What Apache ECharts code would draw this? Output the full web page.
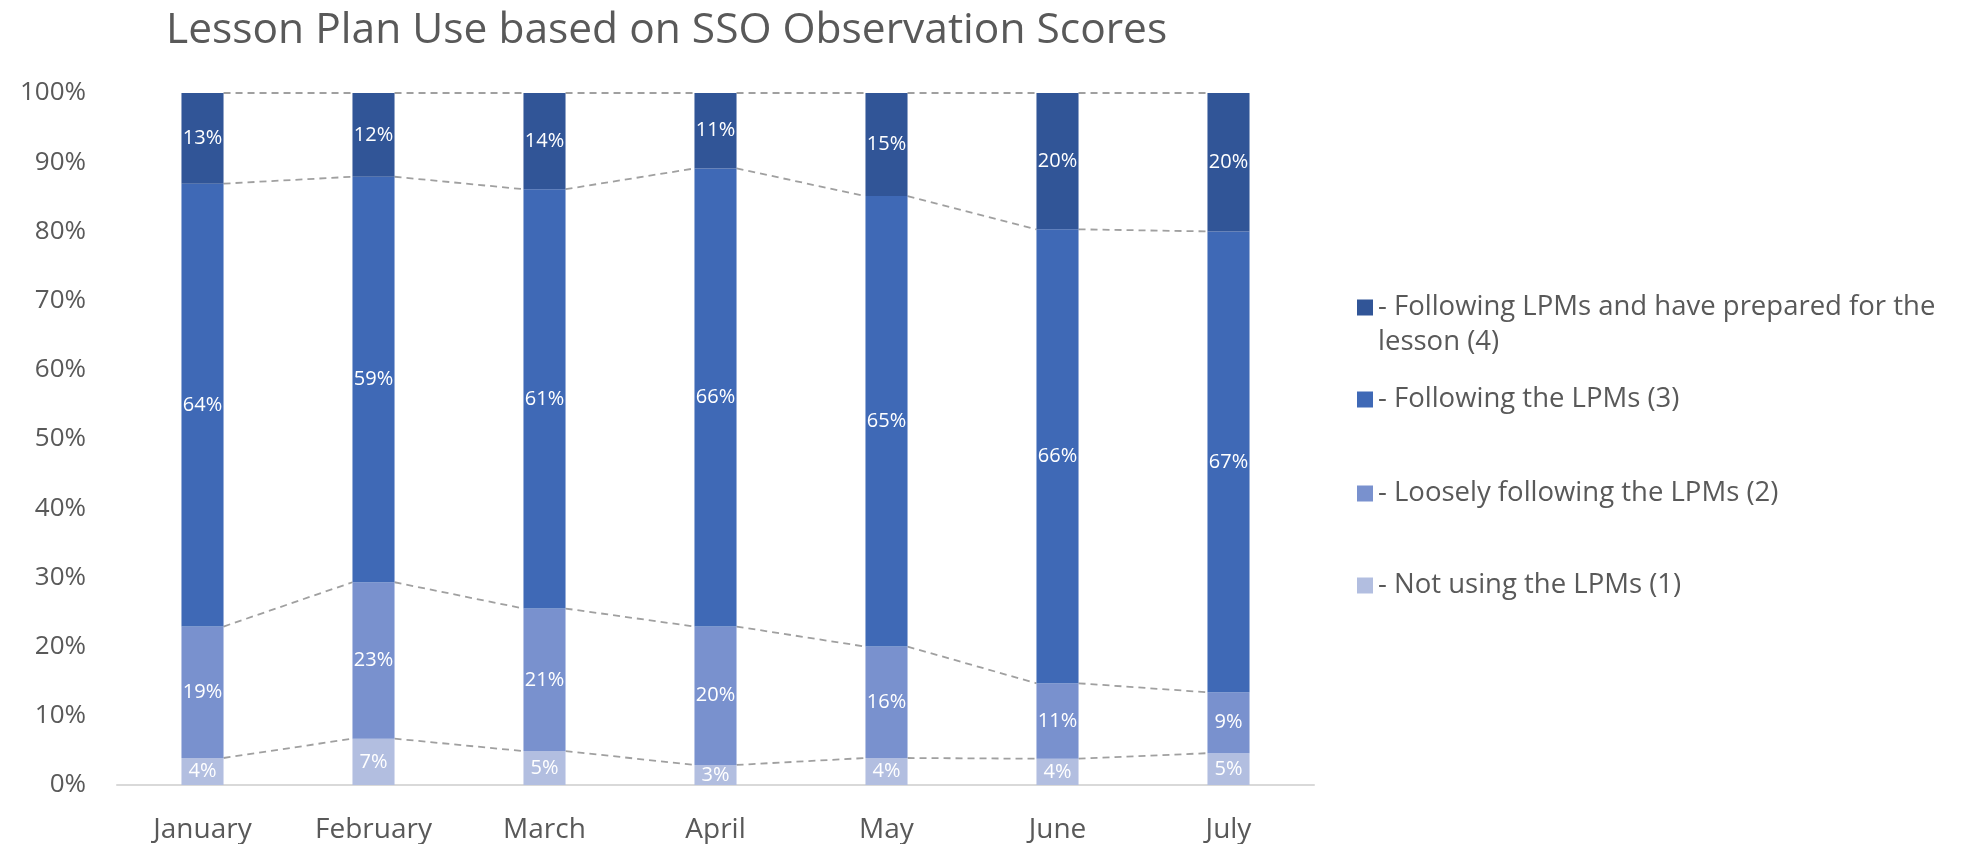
<!DOCTYPE html>
<html>
<head>
<meta charset="utf-8">
<script src="https://cdn.jsdelivr.net/npm/echarts@6/dist/echarts.min.js"></script>
<style>
html,body{margin:0;padding:0;background:#fff;}
#chart{width:1976px;height:844px;}
</style>
</head>
<body>
<div id="chart"></div>
<script>
const titleText = 'Lesson Plan Use based on SSO Observation Scores';
const months = ['January', 'February', 'March', 'April', 'May', 'June', 'July'];
const seriesNames = [
  '- Not using the LPMs (1)',
  '- Loosely following the LPMs (2)',
  '- Following the LPMs (3)',
  '- Following LPMs and have prepared for the lesson (4)'
];
const notUsing = [3.9, 6.7, 4.9, 2.9, 3.9, 3.8, 4.6];
const loosely = [19.0, 22.6, 20.6, 20.0, 16.1, 10.9, 8.8];
const following = [64.0, 58.6, 60.6, 66.2, 65.1, 65.6, 66.6];
const prepared = [13.1, 12.1, 13.9, 10.9, 14.9, 19.7, 20.0];
const yTicks = [0, 10, 20, 30, 40, 50, 60, 70, 80, 90, 100];

const colors = ['#B2BEE0', '#7991CE', '#3F69B6', '#315597'];
const seriesValues = [notUsing, loosely, following, prepared];
const BAR_FRAC = 0.246;
const FONT = '"Open Sans", sans-serif';
const GREY = '#595959';

// cumulative levels for series lines
const levels = [];
let run = months.map(() => 0);
seriesValues.forEach(arr => {
  run = run.map((v, i) => v + arr[i]);
  levels.push(run.slice());
});

const chart = echarts.init(document.getElementById('chart'), null, {renderer: 'canvas'});

const barSeries = seriesValues.map((arr, k) => ({
  name: seriesNames[k],
  type: 'bar',
  stack: 'total',
  barWidth: (BAR_FRAC * 100) + '%',
  data: arr,
  itemStyle: {color: colors[k]},
  label: {
    show: true,
    position: 'inside',
    color: '#fff',
    fontFamily: FONT,
    fontSize: 20,
    formatter: p => Math.round(p.value) + '%'
  },
  emphasis: {disabled: true}
}));

const linesSeries = {
  type: 'custom',
  silent: true,
  z: 1,
  data: months.slice(0, -1).map((m, i) => [i, 0]),
  encode: {x: 0, y: 1},
  renderItem: function (params, api) {
    const i = api.value(0);
    const half = api.size([1, 0])[0] * BAR_FRAC / 2;
    const children = levels.map(lv => {
      const p0 = api.coord([i, lv[i]]);
      const p1 = api.coord([i + 1, lv[i + 1]]);
      return {
        type: 'line',
        shape: {x1: p0[0] + half, y1: p0[1], x2: p1[0] - half, y2: p1[1]},
        style: {stroke: '#A0A0A0', lineWidth: 1.8, lineDash: [7, 5]}
      };
    });
    return {type: 'group', children: children};
  }
};

const legendTops = [255, 382, 476, 568];
const legendOrder = [3, 2, 1, 0];
const legends = legendOrder.map((k, j) => ({
  orient: 'vertical',
  left: 1357,
  top: legendTops[j],
  padding: 0,
  itemWidth: 16,
  itemHeight: 16,
  icon: 'rect',
  selectedMode: false,
  data: [seriesNames[k]],
  formatter: name => k === 3 ? ' \n- Following LPMs and have prepared for the\nlesson (4)' : name,
  textStyle: {color: GREY, fontFamily: FONT, fontSize: 27.5, lineHeight: 35}
}));

chart.setOption({
  animation: false,
  backgroundColor: '#fff',
  title: {
    text: titleText,
    left: 161,
    top: 4,
    textStyle: {color: GREY, fontFamily: FONT, fontSize: 42.5, fontWeight: 'normal'}
  },
  legend: legends,
  grid: {left: 117, right: 662, top: 93, bottom: 58, containLabel: false},
  xAxis: {
    type: 'category',
    data: months,
    axisLine: {lineStyle: {color: '#D9D9D9', width: 2}},
    axisTick: {show: false},
    axisLabel: {color: GREY, fontFamily: FONT, fontSize: 28, margin: 31}
  },
  yAxis: {
    type: 'value',
    min: yTicks[0],
    max: yTicks[yTicks.length - 1],
    interval: 10,
    splitLine: {show: false},
    axisLine: {show: false},
    axisTick: {show: false},
    axisLabel: {color: GREY, fontFamily: FONT, fontSize: 26, margin: 31, formatter: '{value}%'}
  },
  series: barSeries.concat([linesSeries])
});
</script>
</body>
</html>
